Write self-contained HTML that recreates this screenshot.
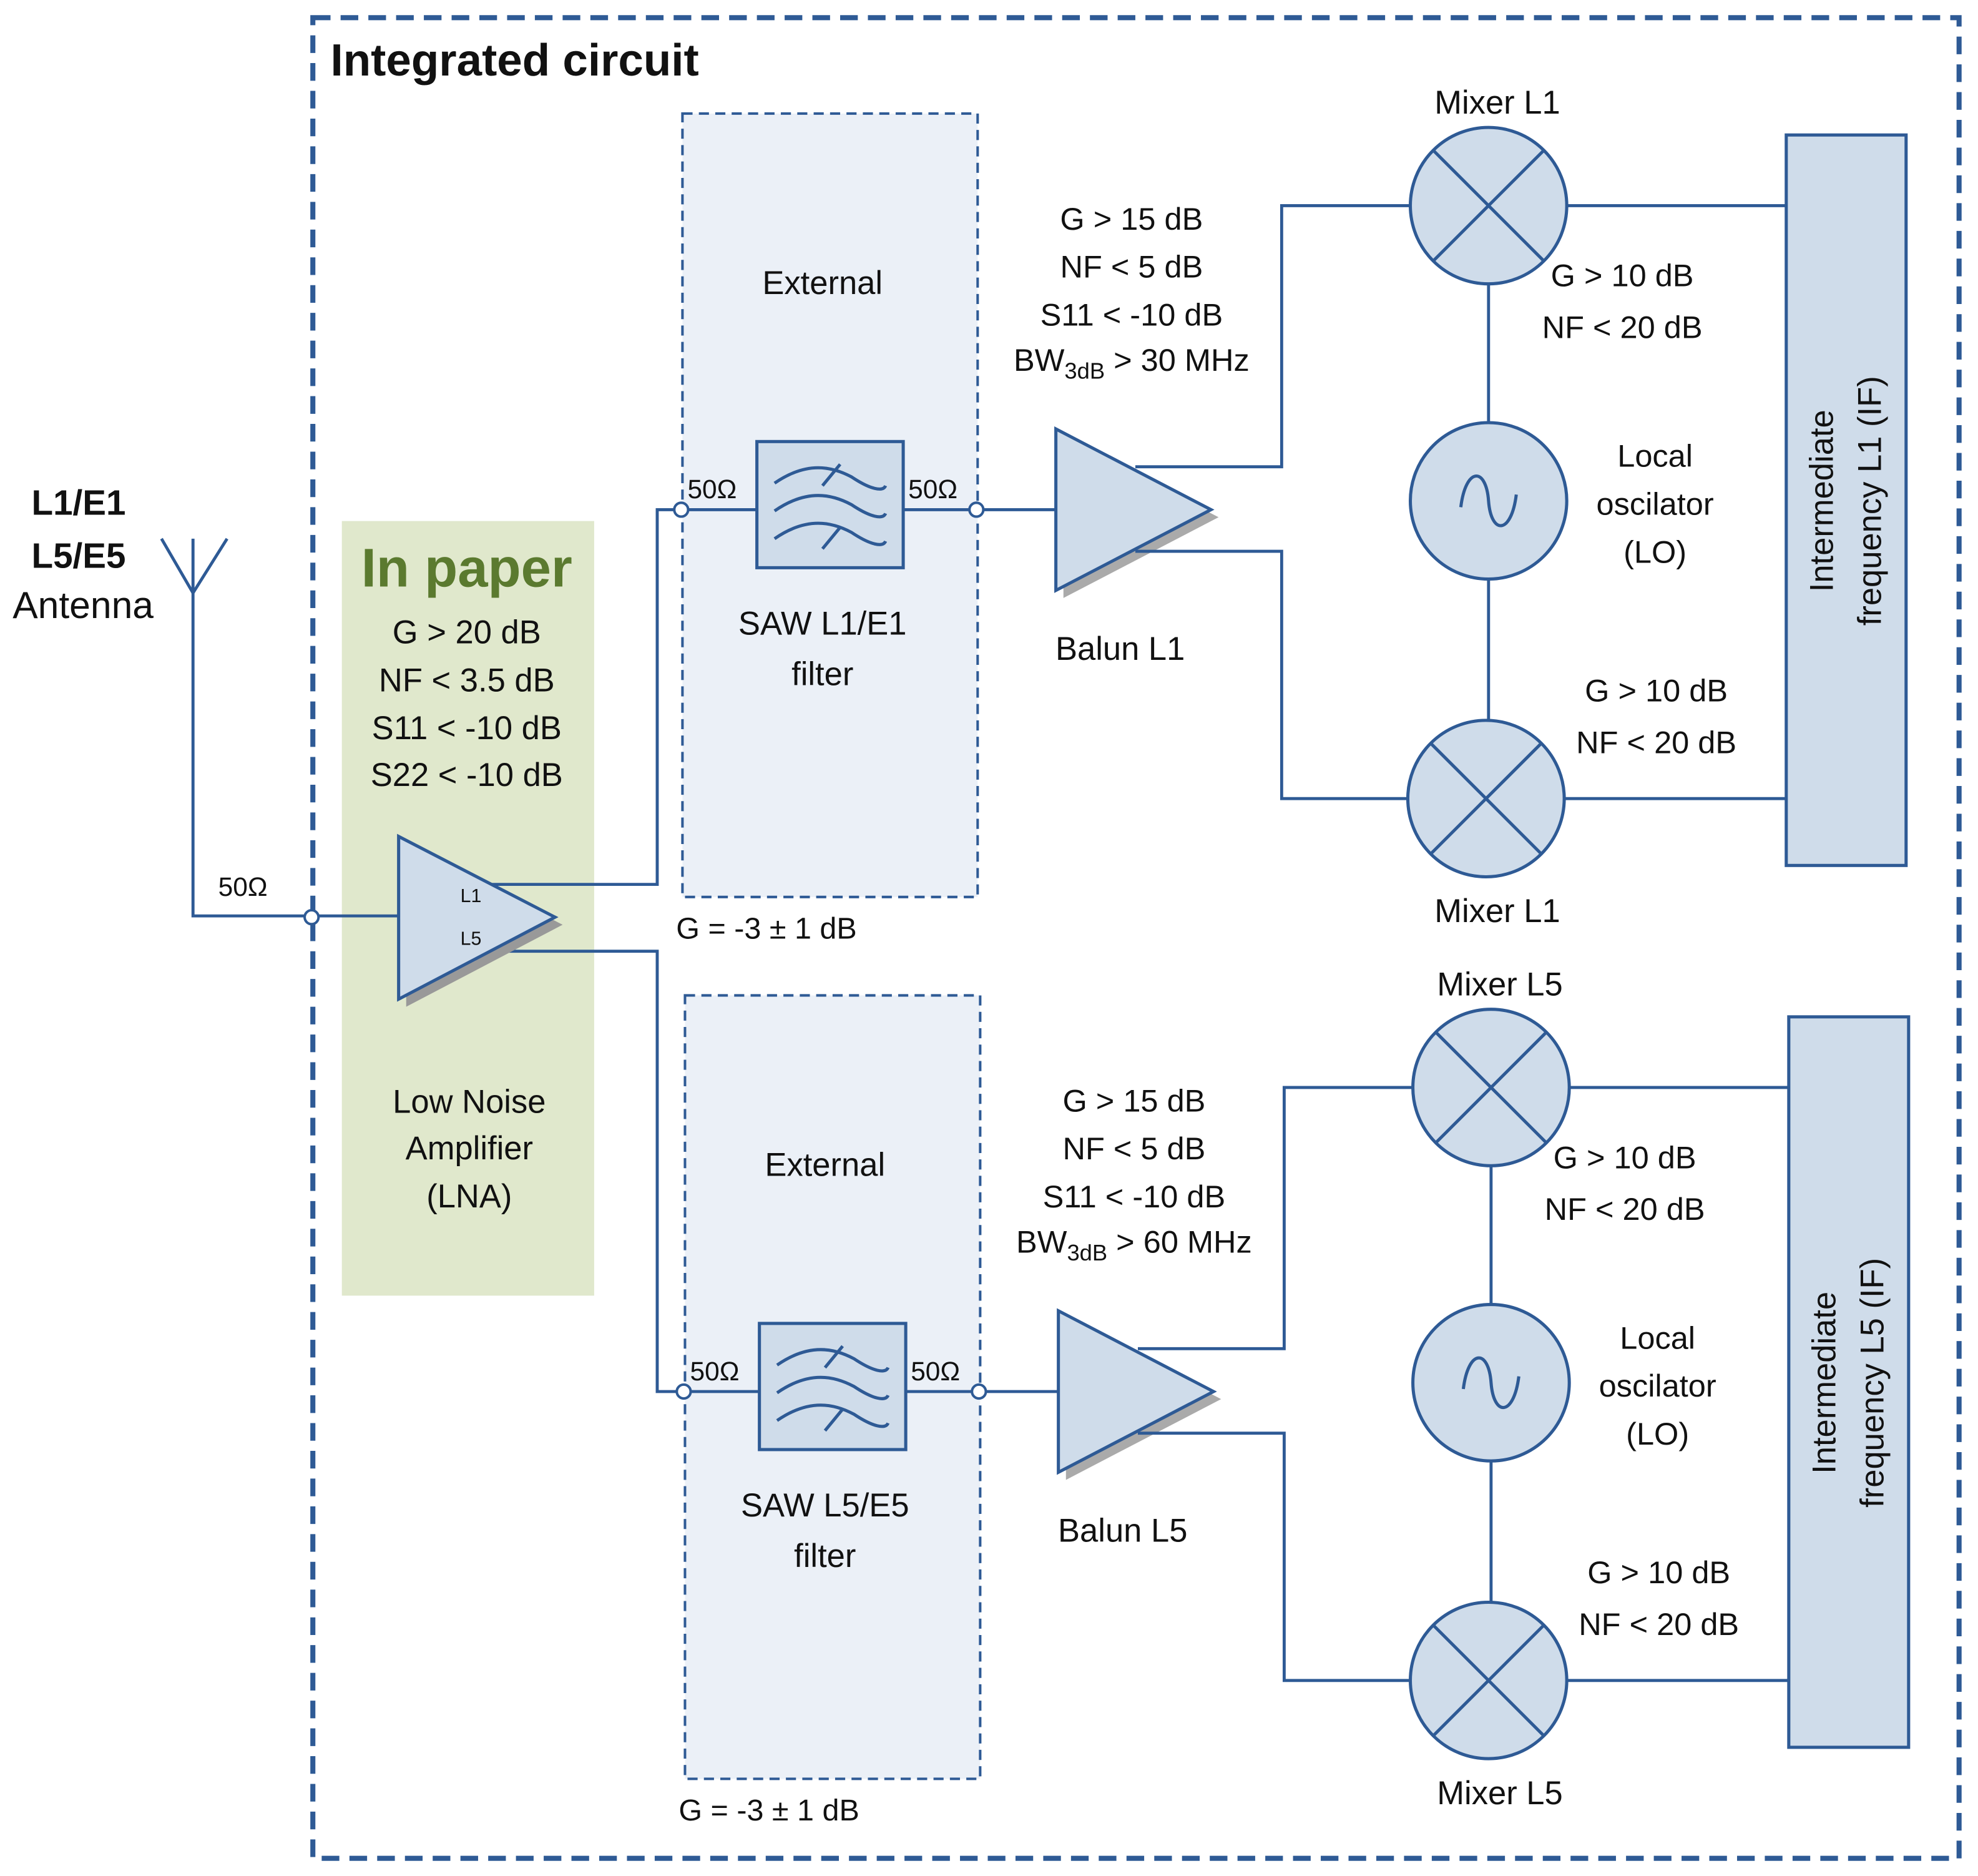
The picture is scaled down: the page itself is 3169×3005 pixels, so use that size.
<!DOCTYPE html>
<html><head><meta charset="utf-8"><style>
html,body{margin:0;padding:0;background:#fff}
svg{display:block}
text{font-family:"Liberation Sans",sans-serif;fill:#111}
</style></head><body>
<svg width="3169" height="3005" viewBox="0 0 1568 1487" preserveAspectRatio="none" xmlns="http://www.w3.org/2000/svg">
<defs>
<g id="branch">
  <rect x="541" y="90" width="234" height="621" fill="#ebf0f7" stroke="#2e5a95" stroke-width="2" stroke-dasharray="8,5"/>
  <text x="652" y="233" font-size="26" text-anchor="middle">External</text>
  <line x1="540" y1="404" x2="600" y2="404" stroke="#2e5a95" stroke-width="2.4"/>
  <line x1="716" y1="404" x2="837" y2="404" stroke="#2e5a95" stroke-width="2.4"/>
  <rect x="600" y="350" width="116" height="100" fill="#cfdcea" stroke="#2e5a95" stroke-width="2.5"/>
  <g fill="none" stroke="#2e5a95" stroke-width="2.5">
    <path d="M614 383 C640 365 660 370 675 378 C690 388 700 390 702 385"/>
    <path d="M614 405 C640 387 660 392 675 400 C690 410 700 412 702 407"/>
    <path d="M614 427 C640 409 660 414 675 422 C690 432 700 434 702 429"/>
    <line x1="652" y1="385" x2="666" y2="368"/>
    <line x1="652" y1="435" x2="666" y2="418"/>
  </g>
  <circle cx="540" cy="404" r="5.5" fill="#fff" stroke="#2e5a95" stroke-width="2"/>
  <circle cx="774" cy="404" r="5.5" fill="#fff" stroke="#2e5a95" stroke-width="2"/>
  <text x="545" y="395" font-size="21">50Ω</text>
  <text x="720" y="395" font-size="21">50Ω</text>
  <text x="536" y="744" font-size="24">G = -3 ± 1 dB</text>
  <polygon points="843,346 843,474 966,410" fill="#aaa"/>
  <polygon points="837,340 837,468 960,404" fill="#cfdcea" stroke="#2e5a95" stroke-width="2.5"/>
  <polyline points="900,370 1016,370 1016,163 1118,163" fill="none" stroke="#2e5a95" stroke-width="2.4"/>
  <polyline points="900,437 1016,437 1016,633 1116,633" fill="none" stroke="#2e5a95" stroke-width="2.4"/>
  <g font-size="25" text-anchor="middle">
    <text x="897" y="182">G &gt; 15 dB</text>
    <text x="897" y="220">NF &lt; 5 dB</text>
    <text x="897" y="258">S11 &lt; -10 dB</text>
  </g>
  <line x1="1180" y1="225" x2="1180" y2="571" stroke="#2e5a95" stroke-width="2.4"/>
  <line x1="1242" y1="163" x2="1416" y2="163" stroke="#2e5a95" stroke-width="2.4"/>
  <line x1="1240" y1="633" x2="1416" y2="633" stroke="#2e5a95" stroke-width="2.4"/>
  <g fill="#cfdcea" stroke="#2e5a95" stroke-width="2.5">
    <circle cx="1180" cy="163" r="62"/>
    <circle cx="1180" cy="397" r="62"/>
    <circle cx="1178" cy="633" r="62"/>
  </g>
  <g stroke="#2e5a95" stroke-width="2.5" fill="none">
    <line x1="1136" y1="119" x2="1224" y2="207"/><line x1="1224" y1="119" x2="1136" y2="207"/>
    <line x1="1134" y1="589" x2="1222" y2="677"/><line x1="1222" y1="589" x2="1134" y2="677"/>
    <path d="M1158 402 C1162 370 1178 370 1180 397 C1182 424 1198 424 1202 392"/>
  </g>
  <rect x="1416" y="107" width="95" height="579" fill="#cfdcea" stroke="#2e5a95" stroke-width="2.5"/>
  <g font-size="25" text-anchor="middle">
    <text x="1286" y="227">G &gt; 10 dB</text>
    <text x="1286" y="268">NF &lt; 20 dB</text>
    <text x="1313" y="556">G &gt; 10 dB</text>
    <text x="1313" y="597">NF &lt; 20 dB</text>
    <text x="1312" y="370">Local</text>
    <text x="1312" y="408">oscilator</text>
    <text x="1312" y="446">(LO)</text>
  </g>
</g>
</defs>

<rect x="248" y="14" width="1305" height="1459" fill="none" stroke="#2e5a95" stroke-width="4" stroke-dasharray="14,8"/>
<text x="262" y="60" font-size="36" font-weight="bold">Integrated circuit</text>

<text x="25" y="408" font-size="28" font-weight="bold">L1/E1</text>
<text x="25" y="450" font-size="28" font-weight="bold">L5/E5</text>
<text x="10" y="490" font-size="30">Antenna</text>
<polyline points="128,427 153,470 180,427" fill="none" stroke="#2e5a95" stroke-width="2.4"/>
<polyline points="153,427 153,726 247,726" fill="none" stroke="#2e5a95" stroke-width="2.4"/>
<text x="173" y="710" font-size="21">50Ω</text>

<rect x="271" y="413" width="200" height="614" fill="#e0e8cc"/>
<text x="370" y="465" font-size="43" font-weight="bold" text-anchor="middle" style="fill:#5b7a2f">In paper</text>
<g font-size="26" text-anchor="middle">
  <text x="370" y="510">G &gt; 20 dB</text>
  <text x="370" y="548">NF &lt; 3.5 dB</text>
  <text x="370" y="586">S11 &lt; -10 dB</text>
  <text x="370" y="623">S22 &lt; -10 dB</text>
  <text x="372" y="882">Low Noise</text>
  <text x="372" y="919">Amplifier</text>
  <text x="372" y="957">(LNA)</text>
</g>
<line x1="247" y1="726" x2="316" y2="726" stroke="#2e5a95" stroke-width="2.4"/>
<polyline points="388,701 521,701 521,404 540,404" fill="none" stroke="#2e5a95" stroke-width="2.4"/>
<polyline points="388,754 521,754 521,1103 541,1103" fill="none" stroke="#2e5a95" stroke-width="2.4"/>
<polygon points="322,669 322,798 446,733" fill="#999"/>
<polygon points="316,663 316,792 440,727" fill="#cfdcea" stroke="#2e5a95" stroke-width="2.5"/>
<text x="365" y="715" font-size="15">L1</text>
<text x="365" y="749" font-size="15">L5</text>
<circle cx="247" cy="727" r="5.5" fill="#fff" stroke="#2e5a95" stroke-width="2"/>

<use href="#branch"/>
<text x="897" y="294" font-size="25" text-anchor="middle">BW<tspan font-size="18" dy="6">3dB</tspan><tspan dy="-6"> &gt; 30 MHz</tspan></text>
<g font-size="26" text-anchor="middle">
  <text x="652" y="503">SAW L1/E1</text>
  <text x="652" y="543">filter</text>
  <text x="888" y="523">Balun L1</text>
  <text x="1187" y="90">Mixer L1</text>
  <text x="1187" y="731">Mixer L1</text>
  <g transform="translate(1463,397) rotate(-90)">
    <text x="0" y="-10">Intermediate</text>
    <text x="0" y="28">frequency L1 (IF)</text>
  </g>
</g>

<g transform="translate(2,699)">
<use href="#branch"/>
<text x="897" y="294" font-size="25" text-anchor="middle">BW<tspan font-size="18" dy="6">3dB</tspan><tspan dy="-6"> &gt; 60 MHz</tspan></text>
<g font-size="26" text-anchor="middle">
  <text x="652" y="503">SAW L5/E5</text>
  <text x="652" y="543">filter</text>
  <text x="888" y="523">Balun L5</text>
  <text x="1187" y="90">Mixer L5</text>
  <text x="1187" y="731">Mixer L5</text>
  <g transform="translate(1463,397) rotate(-90)">
    <text x="0" y="-10">Intermediate</text>
    <text x="0" y="28">frequency L5 (IF)</text>
  </g>
</g>
</g>
</svg>
</body></html>
